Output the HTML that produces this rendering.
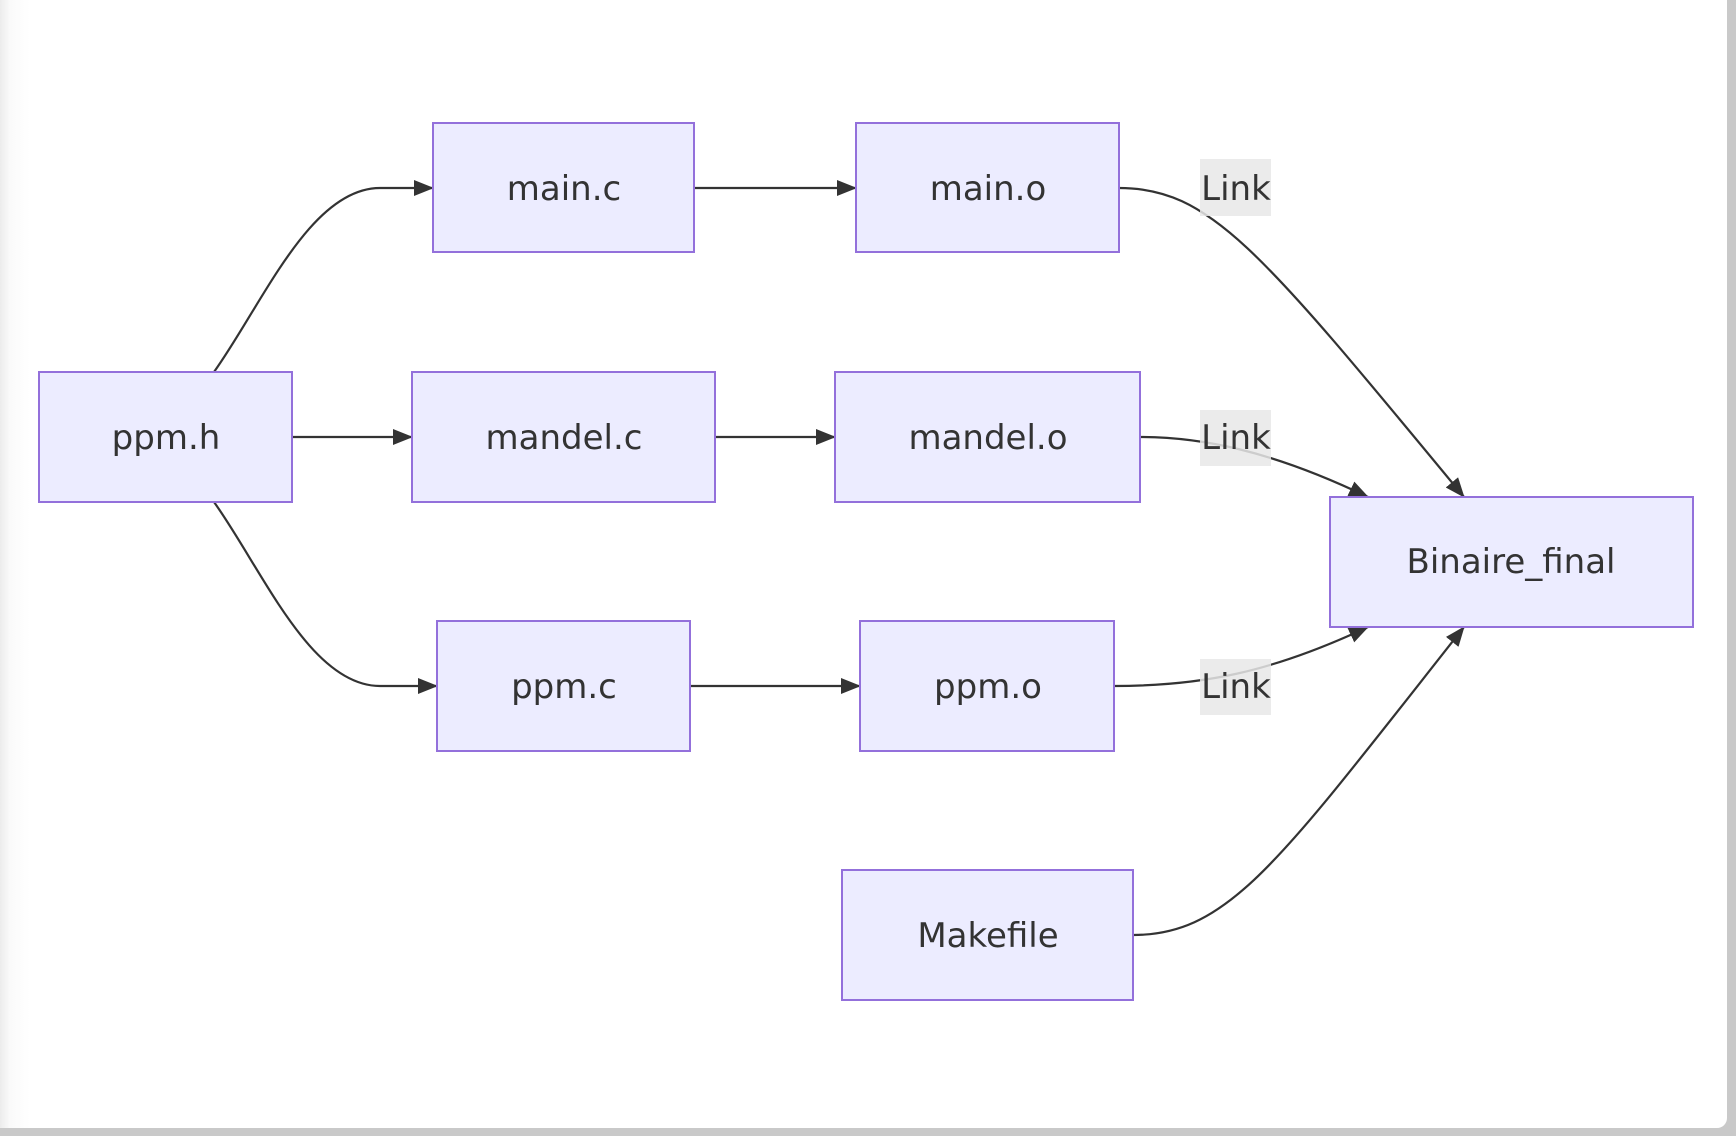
<!DOCTYPE html>
<html><head><meta charset="utf-8"><style>
html,body{margin:0;padding:0;width:1736px;height:1136px;overflow:hidden;background:#c9c9c9;}
.frame{position:absolute;left:0;top:0;width:1727px;height:1128px;background:linear-gradient(to right,#ececec 0,#fafafa 10px,#fff 30px);border-radius:0 0 10px 0;}
svg{position:absolute;left:0;top:0;}
text{font-family:"DejaVu Sans","Liberation Sans",sans-serif;font-size:34px;fill:#333;}
</style></head><body>
<div class="frame"></div>
<svg width="1736" height="1136" viewBox="0 0 1736 1136">
<defs><marker id="a" markerWidth="20" markerHeight="16" refX="19" refY="8" orient="auto" markerUnits="userSpaceOnUse"><path d="M0,0 L20,8 L0,16 Z" fill="#333"/></marker></defs>
<g fill="none" stroke="#333" stroke-width="2.2" marker-end="url(#a)">
<path d="M214,372 C262,305 310,188 380,188 L433,188"/>
<path d="M214,502 C262,569 310,686 380,686 L437,686"/>
<path d="M694,188 L856,188"/>
<path d="M292,437 L412,437"/>
<path d="M715,437 L835,437"/>
<path d="M690,686 L860,686"/>
<path d="M1119,188 C1210,188 1260,250 1464,497"/>
<path d="M1140,437 C1200,437 1270,450 1368,497"/>
<path d="M1114,686 C1200,686 1270,673 1368,627"/>
<path d="M1133,935 C1230,935 1280,860 1464,627"/>
</g>
<g fill="#ececff" stroke="#9370db" stroke-width="2">
<rect x="433" y="123" width="261" height="129"/>
<rect x="856" y="123" width="263" height="129"/>
<rect x="39" y="372" width="253" height="130"/>
<rect x="412" y="372" width="303" height="130"/>
<rect x="835" y="372" width="305" height="130"/>
<rect x="437" y="621" width="253" height="130"/>
<rect x="860" y="621" width="254" height="130"/>
<rect x="842" y="870" width="291" height="130"/>
<rect x="1330" y="497" width="363" height="130"/>
</g>
<g fill="rgba(232,232,232,0.85)">
<rect x="1200" y="159" width="71" height="57"/>
<rect x="1200" y="410" width="71" height="56"/>
<rect x="1200" y="659" width="71" height="56"/>
</g>
<g text-anchor="middle">
<text x="564" y="200">main.c</text>
<text x="988" y="200">main.o</text>
<text x="166" y="449">ppm.h</text>
<text x="564" y="449">mandel.c</text>
<text x="988" y="449">mandel.o</text>
<text x="564" y="698">ppm.c</text>
<text x="988" y="698">ppm.o</text>
<text x="988" y="947">Makefile</text>
<text x="1511" y="573">Binaire_final</text>
<text x="1236" y="200">Link</text>
<text x="1236" y="449">Link</text>
<text x="1236" y="698">Link</text>
</g>
</svg>
</body></html>
